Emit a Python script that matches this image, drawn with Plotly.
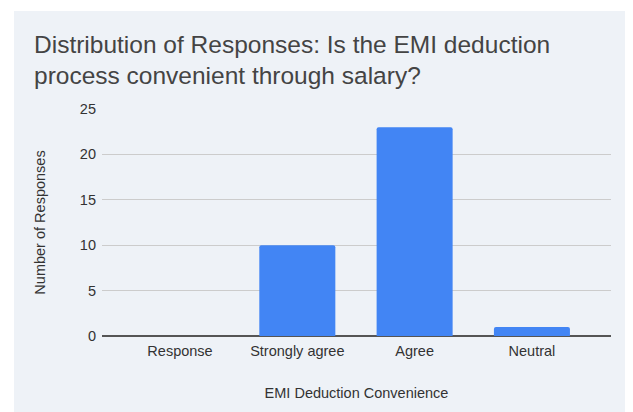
import plotly.graph_objects as go

categories = ["Response", "Strongly agree", "Agree", "Neutral"]
responses = [0, 10, 23, 1]
y_ticks = [0, 5, 10, 15, 20, 25]

# The page body has an 8px margin, so the figure is drawn 8px in from the window corner.
OFF = 8
W, H = 633 - OFF, 412 - OFF
ML, MR, MT, MB = 102 - OFF, 22, 109 - OFF, 76
PW, PH = W - ML - MR, H - MT - MB

def px_x(p):  # p: pixel in window coordinates
    return (p - OFF - ML) / PW

def px_y(p):
    return (H - MB - (p - OFF)) / PH

FONT = "Liberation Sans, Arial, sans-serif"
BG = "#eef2f7"

fig = go.Figure(go.Bar(
    x=categories, y=responses,
    marker=dict(color="#4285f4", cornerradius=2, line=dict(width=0)),
    width=0.648,
))

fig.update_layout(
    width=W, height=H,
    margin=dict(l=ML, r=MR, t=MT, b=MB),
    paper_bgcolor="white",
    plot_bgcolor="rgba(0,0,0,0)",
    showlegend=False,
    font=dict(family=FONT, size=14.5, color="#333333"),
    title=dict(
        text="Distribution of Responses: Is the EMI deduction<br>process convenient through salary?",
        xref="container", yref="container",
        x=(34 - OFF) / W, xanchor="left",
        y=1 - (52.5 - OFF) / H, yanchor="middle",
        pad=dict(t=0, b=0, l=0, r=0),
        font=dict(family=FONT, size=24.5, color="#444444"),
    ),
    shapes=[dict(type="rect", xref="paper", yref="paper", layer="below",
                 x0=px_x(14), x1=px_x(628), y0=px_y(420), y1=px_y(11),
                 fillcolor=BG, line=dict(width=0))],
)

fig.update_xaxes(
    range=[-0.665, 3.674], showgrid=False, zeroline=False, showline=False,
    ticks="", ticklabelstandoff=4, tickfont=dict(size=14.5, color="#333333"),
    title=dict(text="EMI Deduction Convenience", font=dict(size=14.5, color="#333333"), standoff=30),
    automargin=False,
)
fig.update_yaxes(
    range=[0, 25], tickvals=y_ticks, showgrid=True, gridcolor="#cccccc", gridwidth=1.2,
    zeroline=True, zerolinecolor="#555555", zerolinewidth=1.6, showline=False,
    ticks="", ticklabelstandoff=5, tickfont=dict(size=14.5, color="#333333"),
    title=dict(text="Number of Responses", font=dict(size=14.5, color="#333333"), standoff=30),
    automargin=False,
)

fig.write_html("out.html")
